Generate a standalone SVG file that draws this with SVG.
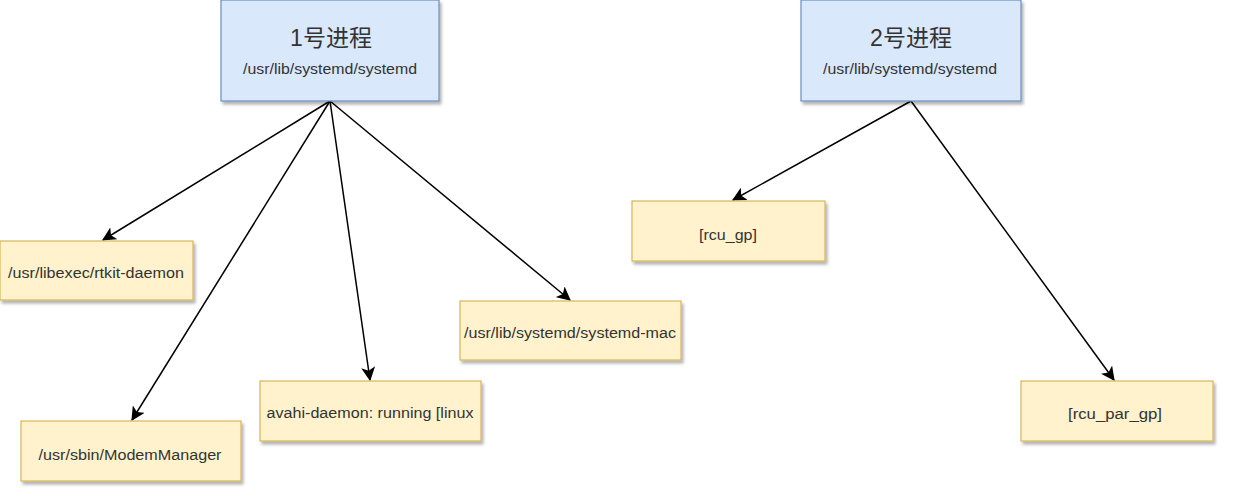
<svg xmlns="http://www.w3.org/2000/svg" width="1236" height="504" viewBox="0 0 1236 504">
<defs>
<filter id="sh" x="-10%" y="-10%" width="130%" height="140%">
<feGaussianBlur in="SourceAlpha" stdDeviation="1.5"/>
<feOffset dx="2" dy="3" result="b"/>
<feComponentTransfer><feFuncA type="linear" slope="0.3"/></feComponentTransfer>
<feMerge><feMergeNode/><feMergeNode in="SourceGraphic"/></feMerge>
</filter>
<marker id="ah" viewBox="0 0 12 12" refX="11" refY="6" markerWidth="14" markerHeight="14" markerUnits="userSpaceOnUse" orient="auto">
<path d="M0,0 L12,6 L0,12 L3,6 Z" fill="#000"/>
</marker>
</defs>
<style>
.blue{fill:#dae8fc;stroke:#6c8ebf;stroke-width:1.2}
.yel{fill:#fff2cc;stroke:#d6b656;stroke-width:1.2}
.t{font-family:"Liberation Sans","Noto Sans CJK SC",sans-serif;fill:#333;text-anchor:middle}
.big{font-size:23px}
.sm{font-size:14px}
.edge{stroke:#000;stroke-width:1.5;fill:none;marker-end:url(#ah)}
</style>
<rect width="1236" height="504" fill="#fff"/>
<g id="connectors">
<line class="edge" x1="330" y1="101" x2="103" y2="240"/>
<line class="edge" x1="330" y1="101" x2="132" y2="420"/>
<line class="edge" x1="330" y1="101" x2="370" y2="380"/>
<line class="edge" x1="330" y1="101" x2="570" y2="300"/>
<line class="edge" x1="911" y1="101" x2="733" y2="200"/>
<line class="edge" x1="911" y1="101" x2="1114" y2="380"/>
</g>
<g id="p1">
<rect class="blue" x="221" y="0" width="218" height="101" filter="url(#sh)"/>
<text class="t big" x="331" y="46">1号进程</text>
<text class="t sm" x="330" y="74" textLength="174" lengthAdjust="spacingAndGlyphs">/usr/lib/systemd/systemd</text>
</g>
<g id="p2">
<rect class="blue" x="801" y="0" width="220" height="101" filter="url(#sh)"/>
<text class="t big" x="911" y="46">2号进程</text>
<text class="t sm" x="910" y="74" textLength="174" lengthAdjust="spacingAndGlyphs">/usr/lib/systemd/systemd</text>
</g>
<g id="rtkit">
<rect class="yel" x="0" y="241" width="193" height="59" filter="url(#sh)"/>
<text class="t sm" x="96" y="278" textLength="176" lengthAdjust="spacingAndGlyphs">/usr/libexec/rtkit-daemon</text>
</g>
<g id="mac">
<rect class="yel" x="460" y="301" width="221" height="59" filter="url(#sh)"/>
<text class="t sm" x="570" y="338" textLength="212" lengthAdjust="spacingAndGlyphs">/usr/lib/systemd/systemd-mac</text>
</g>
<g id="avahi">
<rect class="yel" x="260" y="381" width="221" height="60" filter="url(#sh)"/>
<text class="t sm" x="370" y="418" textLength="207" lengthAdjust="spacingAndGlyphs">avahi-daemon: running [linux</text>
</g>
<g id="modem">
<rect class="yel" x="21" y="421" width="220" height="60" filter="url(#sh)"/>
<text class="t sm" x="130" y="460" textLength="183" lengthAdjust="spacingAndGlyphs">/usr/sbin/ModemManager</text>
</g>
<g id="rcu_gp">
<rect class="yel" x="632" y="201" width="193" height="60" filter="url(#sh)"/>
<text class="t sm" x="728" y="240" textLength="58" lengthAdjust="spacingAndGlyphs">[rcu_gp]</text>
</g>
<g id="rcu_par_gp">
<rect class="yel" x="1021" y="381" width="192" height="60" filter="url(#sh)"/>
<text class="t sm" x="1115" y="419" textLength="94" lengthAdjust="spacingAndGlyphs">[rcu_par_gp]</text>
</g>
</svg>
